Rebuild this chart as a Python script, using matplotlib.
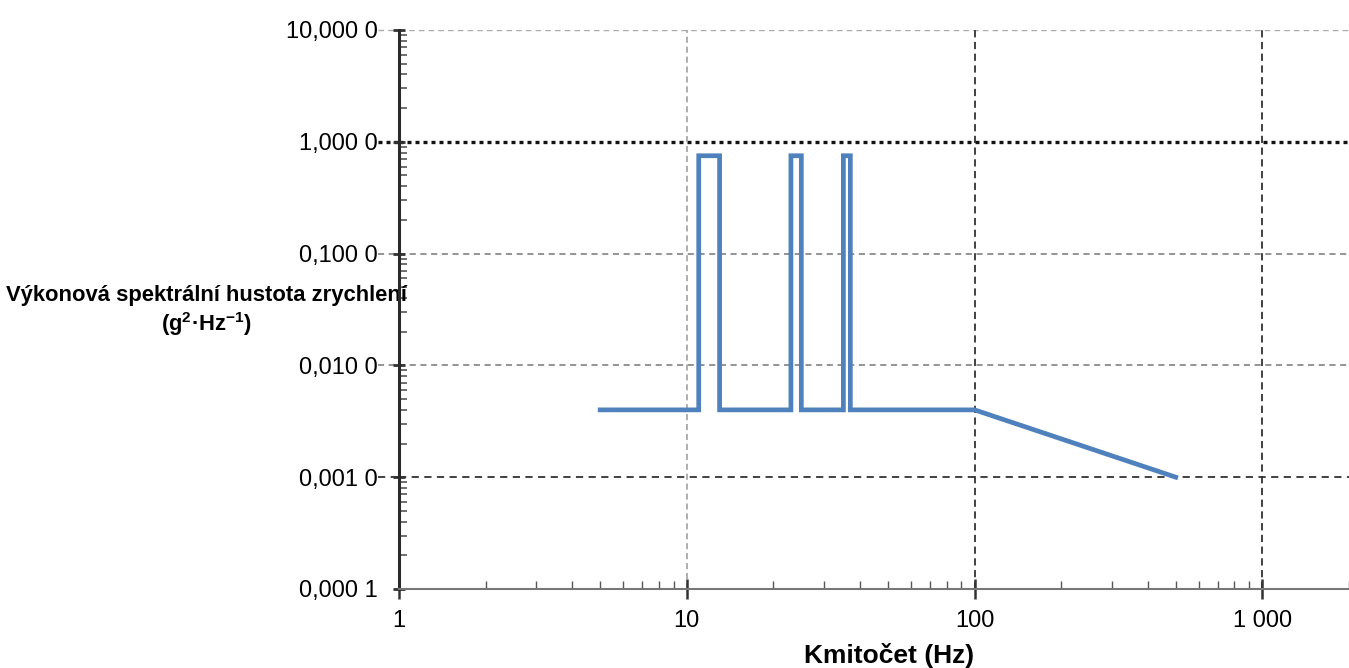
import numpy as np
import matplotlib
matplotlib.use("Agg")
from matplotlib import pyplot as plt
from matplotlib.ticker import FixedLocator, FixedFormatter, LogLocator, NullFormatter

plt.rcParams['font.family'] = ['Liberation Sans', 'DejaVu Sans']
plt.rcParams['mathtext.fontset'] = 'custom'
plt.rcParams['mathtext.rm'] = 'Liberation Sans'
plt.rcParams['mathtext.bf'] = 'Liberation Sans:bold'

# Vibration profile: PSD breakpoints (Hz, g^2/Hz)
freq = [5, 11, 11, 13, 13, 23, 23, 25, 25, 35, 35, 37, 37, 100, 500]
psd = [0.004, 0.004, 0.75, 0.75, 0.004, 0.004, 0.75, 0.75, 0.004,
       0.004, 0.75, 0.75, 0.004, 0.004, 0.001]

xticks = [1, 10, 100, 1000]
xticklabels = ['1', '10', '100', '1 000']
yticks = [0.0001, 0.001, 0.01, 0.1, 1, 10]
yticklabels = ['0,000 1', '0,001 0', '0,010 0', '0,100 0', '1,000 0', '10,000 0']

fig = plt.figure(figsize=(13.49, 6.68), dpi=100)
ax = fig.add_axes([0.2958, 0.1183, 0.7042, 0.8368])
ax.set_xscale('log')
ax.set_yscale('log')
ax.set_xlim(1, 2000)
ax.set_ylim(1e-4, 10)

# grid lines, each decade styled on its own
hgrid = {10: dict(color='#aaaaaa', ls=(0, (4, 3)), lw=1.0),
         1: dict(color='#111111', ls=(0, (1.2, 1.2)), lw=2.4),
         0.1: dict(color='#777777', ls=(0, (4, 3)), lw=1.1),
         0.01: dict(color='#777777', ls=(0, (4, 3)), lw=1.1),
         0.001: dict(color='#333333', ls=(0, (4, 3)), lw=1.3)}
vgrid = {10: dict(color='#999999', ls=(0, (4, 2.5)), lw=1.1),
         100: dict(color='#333333', ls=(0, (4, 2.5)), lw=1.3),
         1000: dict(color='#333333', ls=(0, (4, 2.5)), lw=1.3)}
for yv, st in hgrid.items():
    ax.axhline(yv, zorder=1, **st)
    ax.plot([-0.022, 0], [yv, yv], transform=ax.get_yaxis_transform(),
            clip_on=False, zorder=1, **st)
for xv, st in vgrid.items():
    ax.axvline(xv, zorder=1, **st)

ax.plot(freq, psd, color='#4f81bd', lw=3.4, zorder=3, solid_joinstyle='miter')

for s in ['top', 'right']:
    ax.spines[s].set_visible(False)
ax.spines['left'].set_color('#2a2a2a')
ax.spines['left'].set_linewidth(2.2)
ax.spines['bottom'].set_color('#777777')
ax.spines['bottom'].set_linewidth(1.5)

ax.xaxis.set_major_locator(FixedLocator(xticks))
ax.xaxis.set_major_formatter(FixedFormatter(xticklabels))
ax.xaxis.set_minor_locator(LogLocator(base=10, subs=np.arange(2, 10)))
ax.xaxis.set_minor_formatter(NullFormatter())
ax.yaxis.set_major_locator(FixedLocator(yticks))
ax.yaxis.set_major_formatter(FixedFormatter(yticklabels))
ax.yaxis.set_minor_locator(LogLocator(base=10, subs=np.arange(2, 10)))
ax.yaxis.set_minor_formatter(NullFormatter())

ax.tick_params(axis='x', which='major', direction='inout', length=14, width=1.8,
               color='#333333', labelsize=17, pad=8, labelcolor='black')
ax.tick_params(axis='y', which='major', direction='inout', length=8, width=2,
               color='#333333', labelsize=17, pad=11, labelcolor='black')
ax.tick_params(axis='x', which='minor', direction='in', length=6, width=1, color='#555555')
ax.tick_params(axis='y', which='minor', direction='in', length=6, width=1.2, color='#555555')

ax.set_xlabel('Kmitočet (Hz)', fontsize=19, fontweight='bold')
ax.xaxis.set_label_coords(0.516, -0.097)
ax.set_ylabel('Výkonová spektrální hustota zrychlení\n'
              r'(g$^{\mathbf{2}}$·Hz$^{\mathbf{-1}}$)',
              fontsize=15.8, fontweight='bold', rotation=0,
              ha='center', va='center', multialignment='center')
ax.yaxis.set_label_coords(-0.203, 0.497)

fig.savefig('out.png', dpi=100)
